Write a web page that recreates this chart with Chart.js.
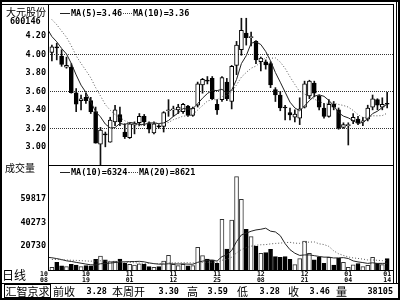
<!DOCTYPE html>
<html>
<head>
<meta charset="utf-8">
<script src="https://cdn.jsdelivr.net/npm/chart.js@4.4.1/dist/chart.umd.min.js"></script>
<style>
html,body{margin:0;padding:0;background:#fff;}
#wrap{position:relative;width:400px;height:300px;overflow:hidden;background:#fff;}
#wrap canvas{position:absolute;left:0;}
.t{position:absolute;white-space:nowrap;color:#000;}
.cjk{font-family:"Noto Sans CJK SC";}
.m{font-family:"DejaVu Sans Mono";font-weight:bold;font-size:8.5px;line-height:9px;}
.ln{position:absolute;background:#000;}
.sg{position:absolute;height:0;border-top:1px solid #222;}
.dt{position:absolute;height:0;border-top:1px dotted #444;}
.d{font-family:"DejaVu Sans Mono";font-weight:bold;font-size:6.5px;line-height:6px;text-align:center;width:14px;}
</style>
</head>
<body>
<div id="wrap">
<canvas id="cp" width="400" height="166" style="top:0"></canvas>
<canvas id="cv" width="400" height="106" style="top:165px"></canvas>

<div class="ln" style="left:0;top:0;width:400px;height:2px"></div>
<div class="ln" style="left:0;top:298px;width:400px;height:2px"></div>
<div class="ln" style="left:0;top:0;width:2px;height:300px"></div>
<div class="ln" style="left:398px;top:0;width:2px;height:300px"></div>
<div class="ln" style="left:2px;top:4px;width:392px;height:1px"></div>
<div class="ln" style="left:48px;top:4px;width:1px;height:267px"></div>
<div class="ln" style="left:48px;top:165px;width:346px;height:1px"></div>
<div class="ln" style="left:48px;top:270px;width:346px;height:1px"></div>
<div class="ln" style="left:393px;top:4px;width:1px;height:280px"></div>
<div class="ln" style="left:396px;top:2px;width:1px;height:282px"></div>
<div class="ln" style="left:2px;top:283px;width:396px;height:1px"></div>

<div class="t cjk" style="left:6px;top:7px;font-size:10px;line-height:10px">大元股份</div>
<div class="t m" style="left:10px;top:17px">600146</div>

<div class="sg" style="left:60px;top:13px;width:10px"></div>
<div class="t m" style="left:71px;top:9px">MA(5)=3.46</div>
<div class="dt" style="left:123px;top:13px;width:9px"></div>
<div class="t m" style="left:133px;top:9px">MA(10)=3.36</div>

<div class="t cjk" style="left:5px;top:163px;font-size:10px;line-height:10px">成交量</div>
<div class="sg" style="left:60px;top:172px;width:10px"></div>
<div class="t m" style="left:71px;top:168px">MA(10)=6324</div>
<div class="dt" style="left:128px;top:172px;width:10px"></div>
<div class="t m" style="left:139px;top:168px">MA(20)=8621</div>

<div class="t cjk" style="left:2px;top:269px;font-size:12px;line-height:12px">日线</div>

<div class="t cjk" style="left:4px;top:284px;width:45px;height:12px;border:1px solid #000;font-size:11px;line-height:12px;text-align:center">汇智京求</div>
<div class="t cjk" style="left:53px;top:285px;font-size:11px;line-height:12px">前收</div>
<div class="t m" style="left:77px;top:287px;width:30px;text-align:right">3.28</div>
<div class="t cjk" style="left:112px;top:285px;font-size:11px;line-height:12px">本周开</div>
<div class="t m" style="left:149px;top:287px;width:30px;text-align:right">3.30</div>
<div class="t cjk" style="left:187px;top:285px;font-size:11px;line-height:12px">高</div>
<div class="t m" style="left:198px;top:287px;width:30px;text-align:right">3.59</div>
<div class="t cjk" style="left:237px;top:285px;font-size:11px;line-height:12px">低</div>
<div class="t m" style="left:250px;top:287px;width:30px;text-align:right">3.28</div>
<div class="t cjk" style="left:288px;top:285px;font-size:11px;line-height:12px">收</div>
<div class="t m" style="left:300px;top:287px;width:30px;text-align:right">3.46</div>
<div class="t cjk" style="left:336px;top:285px;font-size:11px;line-height:12px">量</div>
<div class="t m" style="left:353px;top:287px;width:40px;text-align:right">38105</div>
</div>

<script>
// ---- data (daily bars, 2004-10-08 .. 2005-01-14) ----
const priorCloses = [4.62, 4.58, 4.55, 4.52, 4.53, 4.35, 4.25, 4.18, 4.10];
const opens = [
  4.02, 4.075, 3.98, 3.86, 3.86, 3.585, 3.50, 3.535, 3.50, 3.38,
  3.03, 3.14, 3.05, 3.27, 3.35, 3.16, 3.10, 3.24, 3.26, 3.33,
  3.26, 3.15, 3.225, 3.22, 3.39, 3.40, 3.40, 3.38, 3.44, 3.34,
  3.45, 3.67, 3.715, 3.74, 3.46, 3.51, 3.70, 3.49, 3.88, 4.05,
  4.23, 4.18, 4.14, 3.92, 3.92, 3.90, 3.62, 3.56, 3.43, 3.37,
  3.32, 3.31, 3.43, 3.55, 3.69, 3.55, 3.42, 3.33, 3.46, 3.40,
  3.21, 3.23, 3.28, 3.30, 3.27, 3.30, 3.43, 3.51, 3.43, 3.47];
const highs = [
  4.10, 4.12, 4.05, 3.97, 3.90, 3.63, 3.56, 3.58, 3.535, 3.43,
  3.21, 3.16, 3.32, 3.45, 3.43, 3.25, 3.26, 3.27, 3.36, 3.35,
  3.27, 3.27, 3.24, 3.38, 3.51, 3.44, 3.46, 3.47, 3.45, 3.43,
  3.70, 3.74, 3.76, 3.76, 3.51, 3.76, 3.74, 3.88, 4.14, 4.39,
  4.39, 4.24, 4.15, 3.97, 3.94, 3.92, 3.64, 3.60, 3.45, 3.42,
  3.40, 3.53, 3.71, 3.72, 3.71, 3.56, 3.47, 3.51, 3.49, 3.42,
  3.26, 3.26, 3.36, 3.33, 3.32, 3.45, 3.56, 3.52, 3.53, 3.59];
const lows = [
  3.93, 3.94, 3.87, 3.85, 3.58, 3.38, 3.40, 3.47, 3.36, 3.04,
  2.80, 3.00, 3.05, 3.23, 3.23, 3.09, 3.09, 3.14, 3.23, 3.23,
  3.15, 3.14, 3.20, 3.16, 3.33, 3.33, 3.36, 3.36, 3.33, 3.33,
  3.43, 3.58, 3.68, 3.51, 3.35, 3.49, 3.50, 3.41, 3.78, 3.99,
  4.10, 4.09, 3.90, 3.82, 3.84, 3.64, 3.49, 3.39, 3.29, 3.29,
  3.27, 3.24, 3.42, 3.52, 3.54, 3.40, 3.31, 3.32, 3.40, 3.19,
  3.20, 3.02, 3.25, 3.24, 3.23, 3.28, 3.40, 3.40, 3.40, 3.42];
const closes = [
  4.08, 4.07, 3.89, 3.88, 3.585, 3.46, 3.52, 3.50, 3.38, 3.04,
  3.18, 3.13, 3.29, 3.40, 3.27, 3.11, 3.25, 3.25, 3.33, 3.27,
  3.19, 3.25, 3.215, 3.37, 3.40, 3.41, 3.43, 3.46, 3.34, 3.42,
  3.68, 3.73, 3.71, 3.52, 3.40, 3.75, 3.52, 3.87, 4.10, 4.26,
  4.18, 4.19, 3.94, 3.96, 3.885, 3.67, 3.56, 3.42, 3.42, 3.345,
  3.355, 3.41, 3.68, 3.71, 3.58, 3.43, 3.33, 3.46, 3.43, 3.20,
  3.24, 3.235, 3.32, 3.255, 3.28, 3.42, 3.52, 3.45, 3.46, 3.46];
const priorVolumes = [7500, 9000, 8000, 8800, 7600, 8400, 9100, 7900, 8200, 7300,
  14000, 12500, 13800, 11000, 12600, 10500, 11800, 10200, 10500];
const volumes = [
  3100, 7300, 4200, 3600, 5600, 5000, 3600, 4500, 4200, 9700,
  12500, 9200, 7800, 8300, 10000, 6400, 5600, 5000, 5900, 5600,
  3600, 3100, 3600, 8300, 13100, 5600, 4500, 5600, 4200, 4500,
  19700, 12800, 10000, 9200, 6400, 43000, 18300, 42400, 78500, 59700,
  34700, 28600, 20800, 14700, 15300, 18100, 12000, 11400, 12000, 9700,
  5300, 10300, 24880, 14700, 9200, 11400, 6400, 11400, 5000, 10600,
  7300, 3000, 5040, 6200, 3600, 4700, 11400, 6400, 5300, 10300];
const priceTicks = [3.00, 3.20, 3.40, 3.60, 3.80, 4.00, 4.20];
const priceGridValues = [3.20, 3.60, 4.00];
const volumeTicks = [20730, 40273, 59817];
const dateTickIdx = [0, 7, 16, 25, 34, 43, 52, 61, 69];
const dateTickLabels = [["10","08"],["10","19"],["11","01"],["11","12"],["11","25"],["12","08"],["12","21"],["01","04"],["01","14"]];

// ---- helpers ----
const N = closes.length;
const idx = Array.from({length: N}, (_, i) => i);
const isUp = idx.map(i => closes[i] > opens[i]);
function movingAvg(prior, vals, n) {
  const all = prior.concat(vals), off = prior.length, out = [];
  for (let k = n - 1; k < all.length; k++) {
    let s = 0;
    for (let j = k - n + 1; j <= k; j++) s += all[j];
    out.push({x: k - off, y: s / n});
  }
  return out;
}
const X_MIN = -0.8, X_MAX = 70.2;
const tickFont = {family: 'DejaVu Sans Mono', size: 8.5, weight: 'bold'};
function fitLeft(a) { a.width = 48; a.paddingTop = 0; a.paddingBottom = 0; }
const common = {
  responsive: false, animation: false, devicePixelRatio: 1,
  plugins: {legend: {display: false}, tooltip: {enabled: false}},
  events: []
};

// ---- price panel ----
new Chart(document.getElementById('cp'), {
  type: 'bar',
  data: {datasets: [
    {type: 'line', data: movingAvg(priorCloses, closes, 10), borderColor: '#555', borderWidth: 1,
     borderDash: [1, 2], pointRadius: 0, order: 0},
    {type: 'line', data: movingAvg(priorCloses, closes, 5), borderColor: '#222', borderWidth: 1,
     pointRadius: 0, order: 1},
    {data: idx.map(i => ({x: i, y: [opens[i], closes[i]]})),
     backgroundColor: idx.map(i => isUp[i] ? '#fff' : '#000'), borderColor: '#000', borderWidth: 1,
     borderSkipped: false, barThickness: 4, minBarLength: 1, grouped: false, order: 2},
    {data: idx.map(i => ({x: i, y: [lows[i], highs[i]]})),
     backgroundColor: '#111', borderWidth: 0, barThickness: 1, grouped: false, order: 3}
  ]},
  options: Object.assign({}, common, {
    layout: {padding: {left: 0, right: 7, top: 5, bottom: 1}},
    scales: {
      x: {type: 'linear', min: X_MIN, max: X_MAX, offset: false, display: false},
      y: {position: 'left', min: 2.8036, max: 4.5333, afterFit: fitLeft,
          afterBuildTicks: a => { a.ticks = priceTicks.map(v => ({value: v})); },
          ticks: {color: '#000', padding: 2, font: tickFont, callback: v => Number(v).toFixed(2)},
          grid: {drawTicks: false, lineWidth: 1,
                 color: c => priceGridValues.some(g => Math.abs(g - c.tick.value) < 1e-6) ? '#333' : 'rgba(0,0,0,0)'},
          border: {display: false, dash: [1, 1]}}
    }
  })
});

// ---- volume panel ----
const volChart = new Chart(document.getElementById('cv'), {
  type: 'bar',
  data: {datasets: [
    {type: 'line', data: movingAvg(priorVolumes, volumes, 20), borderColor: '#555', borderWidth: 1,
     borderDash: [1, 2], pointRadius: 0, order: 0},
    {type: 'line', data: movingAvg(priorVolumes, volumes, 10), borderColor: '#222', borderWidth: 1,
     pointRadius: 0, order: 1},
    {data: idx.map(i => ({x: i, y: volumes[i]})),
     backgroundColor: idx.map(i => isUp[i] ? '#fff' : '#000'),
     borderColor: idx.map(i => isUp[i] ? '#333' : '#000'), borderWidth: 1,
     borderSkipped: 'start', barThickness: 4, grouped: false, order: 2}
  ]},
  options: Object.assign({}, common, {
    layout: {padding: {left: 0, right: 7, top: 0, bottom: 1}},
    scales: {
      x: {type: 'linear', min: X_MIN, max: X_MAX, offset: false, display: false},
      y: {position: 'left', min: 832, max: 88150, afterFit: fitLeft,
          afterBuildTicks: a => { a.ticks = volumeTicks.map(v => ({value: v})); },
          ticks: {color: '#000', padding: 2, font: tickFont, callback: v => String(v)},
          grid: {display: false, drawTicks: false},
          border: {display: false}}
    }
  })
});

// ---- date labels under the volume panel ----
const xs = volChart.scales.x;
const wrap = document.getElementById('wrap');
dateTickIdx.forEach((di, k) => {
  const cx = k === 0 ? xs.left - 4 : xs.getPixelForValue(di);
  const el = document.createElement('div');
  el.className = 't d';
  el.style.left = (cx - 7) + 'px';
  el.style.top = '271px';
  el.innerHTML = dateTickLabels[k][0] + '<br>' + dateTickLabels[k][1];
  wrap.appendChild(el);
});
</script>
</body>
</html>
